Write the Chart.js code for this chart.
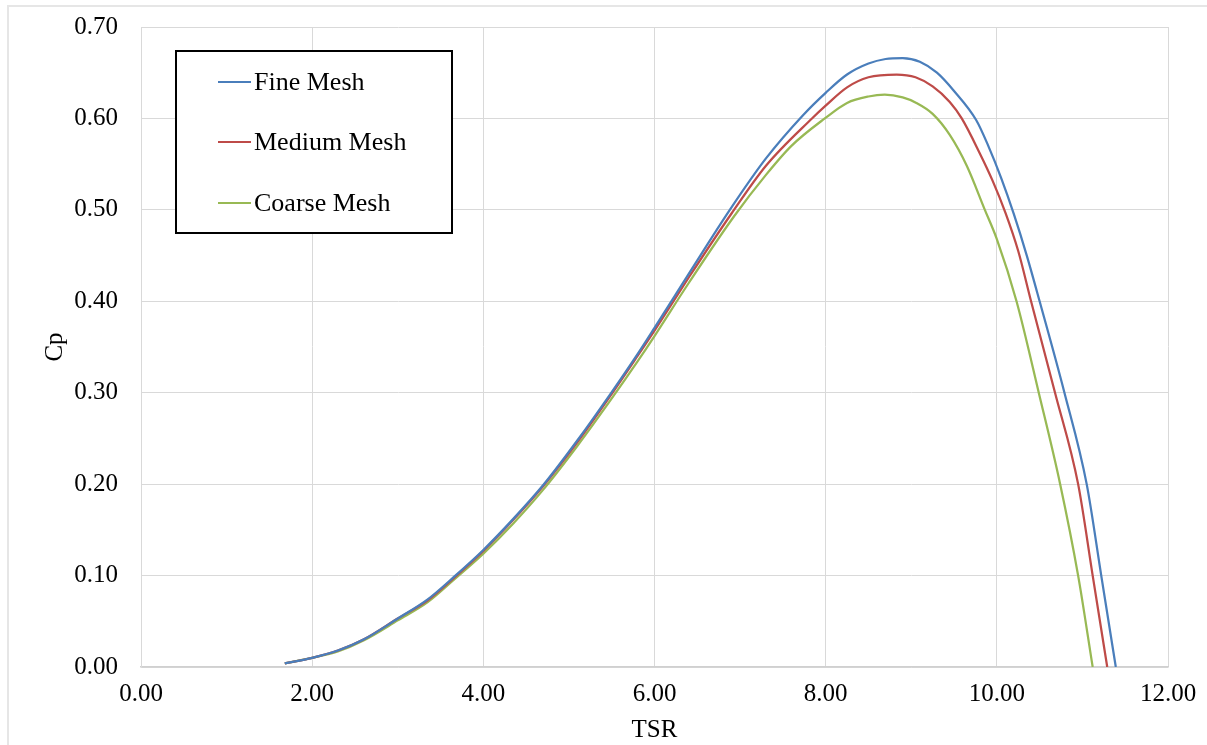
<!DOCTYPE html>
<html lang="en">

<head>
    <meta charset="UTF-8">
    <title>Cp vs TSR</title>
    <script src="https://cdn.jsdelivr.net/npm/chart.js"></script>
    <style>
        body { margin: 0; background: #fff; }
        .frame {
            position: relative;
            width: 1207px;
            height: 745px;
            overflow: hidden;
        }
        .frame .edge {
            position: absolute;
            left: 7px;
            top: 5px;
            width: 1220px;
            height: 800px;
            border-top: 2px solid #e6e6e6;
            border-left: 2px solid #e6e6e6;
        }
        canvas { position: absolute; left: 0; top: 0; }
    </style>
</head>

<body>
    <div class="frame">
        <div class="edge"></div>
        <canvas id="myChart" width="1207" height="745"></canvas>
    </div>
</body>

</html>
<script>
    // values (TSR, Cp)
    var fineX = [1.68, 2.0, 2.3, 2.6, 3.0, 3.35, 3.65, 4.0, 4.35, 4.7, 5.1, 5.48, 5.8, 6.0, 6.4, 6.88, 7.3, 7.73, 8.0, 8.25, 8.5, 8.7, 8.9, 9.1, 9.3, 9.5, 9.76, 9.9, 10.05, 10.2, 10.35, 10.5, 10.79, 11.05, 11.22, 11.39];
    var fineY = [0.004, 0.010, 0.018, 0.030, 0.053, 0.074, 0.098, 0.128, 0.162, 0.199, 0.248, 0.298, 0.342, 0.371, 0.430, 0.500, 0.556, 0.603, 0.628, 0.648, 0.660, 0.665, 0.666, 0.662, 0.650, 0.630, 0.598, 0.570, 0.535, 0.495, 0.450, 0.400, 0.300, 0.200, 0.100, 0.000];

    var mediumX = [1.68, 2.0, 2.3, 2.6, 3.0, 3.35, 3.65, 4.0, 4.35, 4.7, 5.1, 5.48, 5.8, 6.0, 6.4, 6.9, 7.3, 7.84, 8.0, 8.25, 8.5, 8.83, 9.05, 9.25, 9.45, 9.59, 9.8, 9.95, 10.1, 10.25, 10.4, 10.68, 10.95, 11.12, 11.29];
    var mediumY = [0.004, 0.010, 0.018, 0.030, 0.053, 0.073, 0.097, 0.127, 0.161, 0.198, 0.246, 0.296, 0.340, 0.368, 0.426, 0.496, 0.548, 0.600, 0.614, 0.634, 0.645, 0.648, 0.645, 0.635, 0.618, 0.600, 0.562, 0.532, 0.497, 0.455, 0.400, 0.300, 0.200, 0.100, 0.000];

    var coarseX = [1.68, 2.0, 2.3, 2.6, 3.0, 3.35, 3.65, 4.0, 4.35, 4.7, 5.1, 5.48, 5.8, 6.0, 6.4, 6.93, 7.3, 7.6, 7.99, 8.25, 8.5, 8.69, 8.9, 9.06, 9.25, 9.45, 9.65, 9.86, 10.0, 10.23, 10.49, 10.74, 10.95, 11.12];
    var coarseY = [0.004, 0.010, 0.017, 0.029, 0.051, 0.071, 0.095, 0.124, 0.157, 0.194, 0.242, 0.291, 0.334, 0.362, 0.420, 0.493, 0.538, 0.570, 0.600, 0.617, 0.624, 0.626, 0.623, 0.617, 0.605, 0.582, 0.548, 0.500, 0.468, 0.400, 0.300, 0.200, 0.100, 0.000];

    var seriesNames = ['Fine Mesh', 'Medium Mesh', 'Coarse Mesh'];
    var seriesColors = ['#4a7ebb', '#be4b48', '#98b954'];

    var xTicks = [0, 2, 4, 6, 8, 10, 12];
    var yTicks = [0, 0.1, 0.2, 0.3, 0.4, 0.5, 0.6, 0.7];

    var fonte = '"Liberation Serif", "Times New Roman", serif';

    function pares(xs, ys) {
        var out = [];
        for (var i = 0; i < xs.length; i++) {
            out.push({ x: xs[i], y: ys[i] });
        }
        return out;
    }

    var allX = [fineX, mediumX, coarseX];
    var allY = [fineY, mediumY, coarseY];
    var datasets = [];
    for (var s = 0; s < seriesNames.length; s++) {
        datasets.push({
            label: seriesNames[s],
            data: pares(allX[s], allY[s]),
            borderColor: seriesColors[s],
            backgroundColor: seriesColors[s],
            borderWidth: 2.25,
            pointRadius: 0,
            showLine: true,
            cubicInterpolationMode: 'monotone',
            fill: false
        });
    }

    // legend box drawn inside the plot, like the original
    const caixaLegenda = {
        id: 'caixaLegenda',
        afterDraw(chart) {
            var ctx = chart.ctx;
            ctx.save();
            ctx.fillStyle = '#fff';
            ctx.fillRect(176, 51, 276, 182);
            ctx.strokeStyle = '#000';
            ctx.lineWidth = 2;
            ctx.strokeRect(176, 51, 276, 182);
            var linhas = [82, 142, 203];
            ctx.font = '26px ' + fonte;
            ctx.textBaseline = 'middle';
            ctx.textAlign = 'left';
            chart.data.datasets.forEach(function (ds, i) {
                ctx.strokeStyle = ds.borderColor;
                ctx.lineWidth = 2;
                ctx.beginPath();
                ctx.moveTo(218, linhas[i]);
                ctx.lineTo(251, linhas[i]);
                ctx.stroke();
                ctx.fillStyle = '#000';
                ctx.fillText(ds.label, 254, linhas[i] + 1);
            });
            ctx.restore();
        }
    };

    const config = {
        type: 'scatter',
        data: { datasets: datasets },
        options: {
            responsive: false,
            animation: false,
            layout: { padding: { top: 27, right: 39, bottom: 0, left: 0 } },
            plugins: {
                legend: { display: false },
                tooltip: { enabled: false }
            },
            scales: {
                x: {
                    type: 'linear',
                    min: 0,
                    max: 12,
                    afterBuildTicks: function (scale) {
                        scale.ticks = xTicks.map(function (v) { return { value: v }; });
                    },
                    afterFit: function (scale) {
                        scale.height = 78;
                        scale.paddingLeft = 0;
                        scale.paddingRight = 0;
                    },
                    ticks: {
                        color: '#000',
                        padding: 12,
                        font: { family: fonte, size: 25 },
                        callback: function (v) { return v.toFixed(2); }
                    },
                    grid: { color: '#d9d9d9', lineWidth: 1, drawTicks: false },
                    border: { color: '#d0d0d0', width: 1.5 },
                    title: {
                        display: true,
                        text: 'TSR',
                        color: '#000',
                        font: { family: fonte, size: 25 },
                        padding: { top: 0, bottom: 0 }
                    }
                },
                y: {
                    type: 'linear',
                    min: 0,
                    max: 0.7,
                    afterBuildTicks: function (scale) {
                        scale.ticks = yTicks.map(function (v) { return { value: v }; });
                    },
                    afterFit: function (scale) {
                        scale.width = 141;
                        // the label overhang would push the plot down
                        scale.paddingTop = 0;
                        scale.paddingBottom = 0;
                    },
                    ticks: {
                        color: '#000',
                        padding: 23,
                        font: { family: fonte, size: 25 },
                        callback: function (v) { return v.toFixed(2); }
                    },
                    grid: { color: '#d9d9d9', lineWidth: 1, drawTicks: false },
                    border: { color: '#d9d9d9', width: 1 },
                    title: {
                        display: true,
                        text: 'Cp',
                        color: '#000',
                        font: { family: fonte, size: 25 },
                        padding: { top: 40, bottom: 0 }
                    }
                }
            }
        },
        plugins: [caixaLegenda]
    };

    const myChart = new Chart(document.getElementById('myChart'), config);
</script>
